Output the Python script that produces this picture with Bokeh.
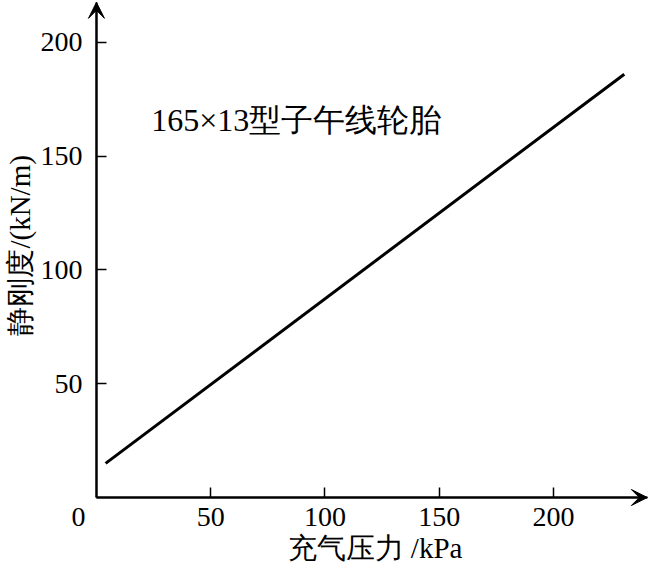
import math
from bokeh.plotting import figure
from bokeh.models import Range1d, Label, Arrow, VeeHead, FixedTicker
from bokeh.embed import file_html
from bokeh.resources import INLINE

# ---- data ----
pressure = [4, 231]          # kPa
stiffness = [15, 186]        # kN/m
x_ticks = [50, 100, 150, 200]
y_ticks = [50, 100, 150, 200]
title_text = "165×13型子午线轮胎"
x_label = "充气压力 /kPa"
y_label = "静刚度/(kN/m)"
origin_label = "0"

X_START, X_END = -42.0, 241.6
Y_START, Y_END = -29.0, 218.4
X_TIP, Y_TIP = 241.1, 217.6

SERIF = "Liberation Serif"

p = figure(width=648, height=563, output_backend="svg", toolbar_location=None,
           x_range=Range1d(X_START, X_END), y_range=Range1d(Y_START, Y_END),
           min_border_left=0, min_border_right=0, min_border_top=0,
           min_border_bottom=0)
p.outline_line_color = None
p.grid.visible = False
p.background_fill_color = "white"
p.border_fill_color = "white"

for ax in (p.xaxis[0], p.yaxis[0]):
    ax.fixed_location = 0
    ax.axis_line_width = 2
    ax.axis_line_color = "black"
    ax.major_tick_in = 10
    ax.major_tick_out = 0
    ax.major_tick_line_width = 1.5
    ax.minor_tick_line_color = None
    ax.major_label_text_font = SERIF
    ax.major_label_text_font_size = "28px"
    ax.major_label_text_color = "black"

p.xaxis[0].bounds = (0, X_TIP)
p.yaxis[0].bounds = (0, Y_TIP)
p.xaxis[0].ticker = FixedTicker(ticks=x_ticks)
p.yaxis[0].ticker = FixedTicker(ticks=y_ticks)
p.xaxis[0].major_label_standoff = 10
p.yaxis[0].major_label_standoff = 14

p.line(pressure, stiffness, line_width=3, line_color="black")

# axis arrowheads
p.add_layout(Arrow(end=VeeHead(size=16, fill_color="black", line_color="black"),
                   x_start=0, y_start=0, x_end=0, y_end=Y_TIP,
                   line_width=2, line_color="black"))
p.add_layout(Arrow(end=VeeHead(size=16, fill_color="black", line_color="black"),
                   x_start=0, y_start=0, x_end=X_TIP, y_end=0,
                   line_width=2, line_color="black"))

p.add_layout(Label(x=24.0, y=165.7, text=title_text, text_font=SERIF,
                   text_font_size="32px", text_baseline="middle",
                   text_align="left", text_color="black"))

p.add_layout(Label(x=121.9, y=-22.4, text=x_label, text_font=SERIF,
                   text_font_size="29px", text_baseline="middle",
                   text_align="center", text_color="black"))

p.add_layout(Label(x=-33.3, y=110.8, text=y_label, text_font=SERIF,
                   text_font_size="29px", text_baseline="middle",
                   text_align="center", angle=math.pi / 2,
                   text_color="black"))

p.add_layout(Label(x=-7.9, y=-8.4, text=origin_label, text_font=SERIF,
                   text_font_size="28px", text_baseline="middle",
                   text_align="center", text_color="black"))

open("out.html", "w").write(file_html(p, INLINE))
